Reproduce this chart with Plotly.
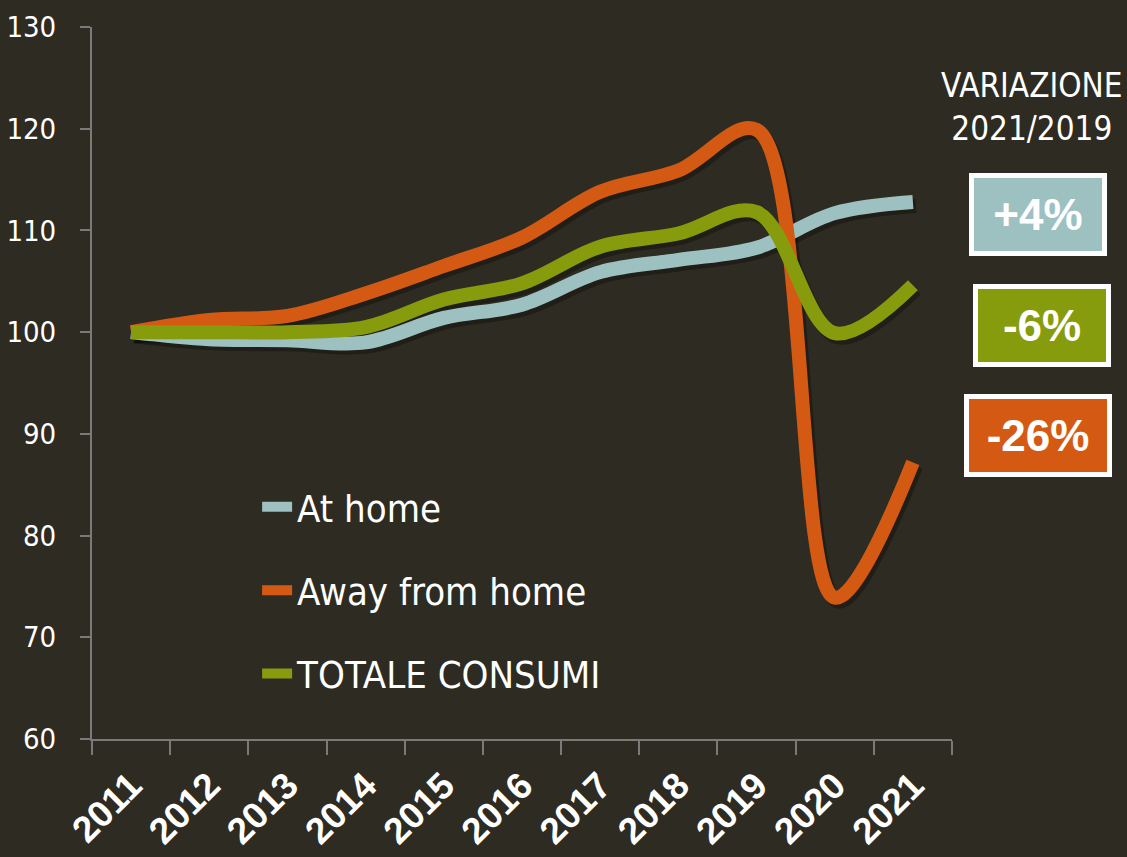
import plotly.graph_objects as go

# Categories and series (index, 2011 = 100)
years = ["2011", "2012", "2013", "2014", "2015", "2016", "2017", "2018", "2019", "2020", "2021"]
at_home = [100, 99.3, 99.2, 99.0, 101.4, 102.7, 105.9, 107.1, 108.3, 111.7, 112.8]
away_from_home = [100, 101.2, 101.6, 103.8, 106.5, 109.3, 113.8, 115.9, 119.9, 73.9, 87.2]
totale_consumi = [100, 100.0, 100.0, 100.5, 103.2, 104.8, 108.4, 109.7, 111.8, 99.9, 104.6]

# Change 2021/2019 boxes
change_labels = ["+4%", "-6%", "-26%"]

BG = "#2e2b22"
C_HOME = "#9dc1c1"
C_AWAY = "#d45a14"
C_TOT = "#869c0c"
AXIS = "#7a7a7a"
NARROW = "DejaVu Sans Condensed, Liberation Sans Narrow, sans-serif"
BOLD = "Liberation Sans, Arial, sans-serif"

fig = go.Figure()

series = [
    ("At home", at_home, C_HOME),
    ("Away from home", away_from_home, C_AWAY),
    ("TOTALE CONSUMI", totale_consumi, C_TOT),
]

# soft drop shadow: same data on the (hidden) base axes, range nudged a little
for name, vals, col in series:
    fig.add_trace(go.Scatter(
        x=years, y=vals, mode="lines", showlegend=False, hoverinfo="skip",
        line=dict(color="rgba(0,0,0,0.3)", width=14, shape="spline", smoothing=1.0),
    ))

# real lines on the visible overlay axes
for name, vals, col in series:
    fig.add_trace(go.Scatter(
        x=years, y=vals, name=name, legendgroup=name, mode="lines",
        xaxis="x2", yaxis="y2",
        line=dict(color=col, width=14, shape="spline", smoothing=1.0),
    ))

# Right-hand annotations
fig.add_annotation(
    xref="paper", yref="paper", x=1.093, y=0.888, showarrow=False,
    xanchor="center", yanchor="middle",
    text="VARIAZIONE<br>2021/2019", align="center",
    font=dict(family=NARROW, size=33, color="white"),
)
box_pos = [(1.100, 0.737, C_HOME), (1.105, 0.581, C_TOT), (1.100, 0.4256, C_AWAY)]
for lbl, (bx, by, col) in zip(change_labels, box_pos):
    fig.add_annotation(
        xref="paper", yref="paper", x=bx, y=by, showarrow=False,
        xanchor="center", yanchor="middle",
        text=lbl, width=128 if lbl != "-26%" else 138, height=73,
        bgcolor=col, bordercolor="white", borderwidth=5, borderpad=0,
        font=dict(family=BOLD, size=44, color="white", weight="bold"),
    )

fig.update_layout(
    width=1127, height=857,
    paper_bgcolor=BG, plot_bgcolor=BG,
    margin=dict(l=92, r=175, t=27, b=118),
    showlegend=True,
    legend=dict(
        x=0.192, y=0.37, xanchor="left", yanchor="top",
        bgcolor="rgba(0,0,0,0)", tracegroupgap=31,
        font=dict(family=NARROW, size=38, color="white"),
    ),
    # hidden base axes carrying the shadow, shifted ~3px right and ~4px down
    xaxis=dict(type="category", range=[-0.54, 10.46], visible=False,
               showgrid=False, zeroline=False),
    yaxis=dict(range=[60.4, 130.4], visible=False, showgrid=False, zeroline=False),
    xaxis2=dict(
        type="category", range=[-0.5, 10.5], overlaying="x", side="bottom",
        tickson="boundaries", anchor="y2",
        ticks="outside", ticklen=14, tickcolor=AXIS, tickwidth=2,
        showline=True, linecolor=AXIS, linewidth=2,
        showgrid=False, zeroline=False, tickangle=-45, ticklabelstandoff=8,
        tickfont=dict(family=BOLD, size=37, color="white", weight="bold"),
        automargin=False,
    ),
    yaxis2=dict(
        range=[60, 130], dtick=10, tick0=60, overlaying="y", side="left",
        anchor="x2",
        ticks="outside", ticklen=10, tickcolor=AXIS, tickwidth=2,
        showline=True, linecolor=AXIS, linewidth=2,
        showgrid=False, zeroline=False, ticklabelstandoff=18,
        tickfont=dict(family=NARROW, size=29, color="white"),
        automargin=False,
    ),
)

# drop the default page margin so the figure sits at the window origin
fig.write_html(
    "out.html",
    config={"displayModeBar": False},
    post_script="document.body.style.margin='0';",
)
